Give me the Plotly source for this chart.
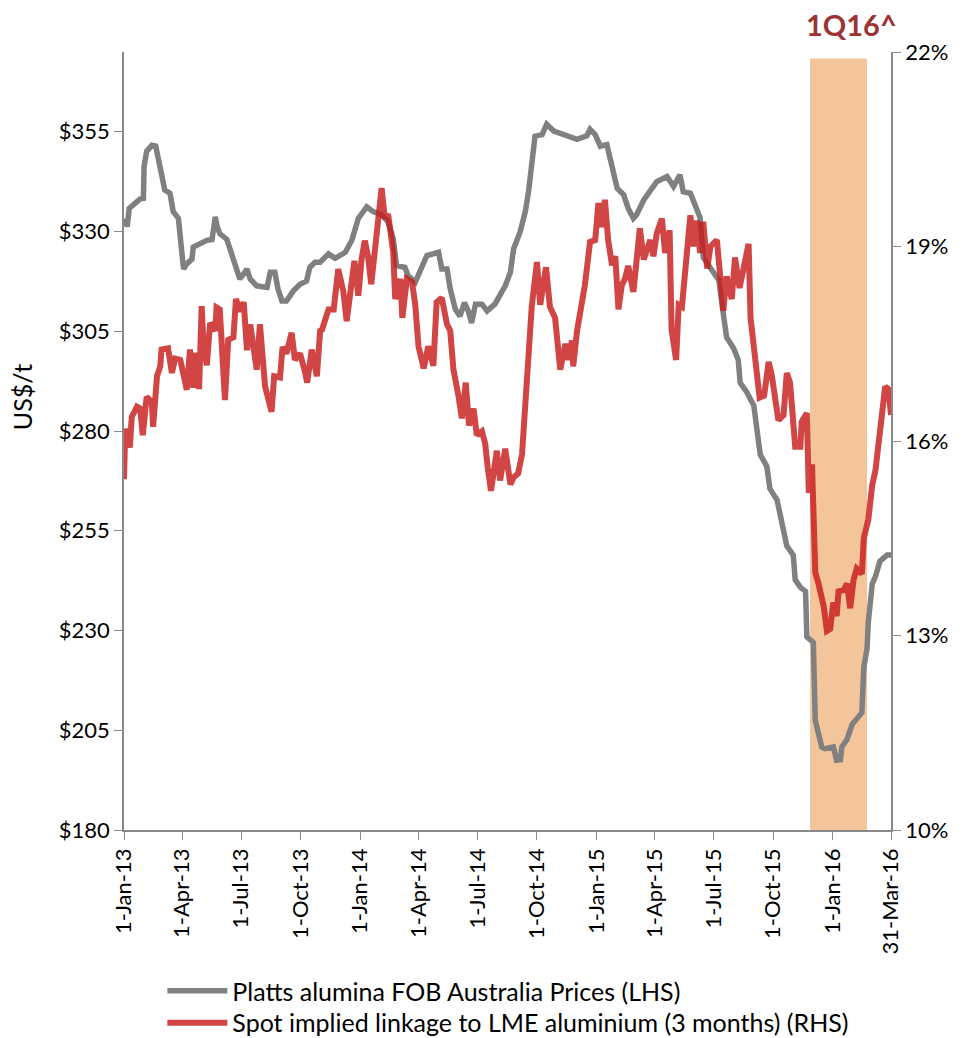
import pandas as pd
import plotly.graph_objects as go

# days since 1-Jan-13
grey_days = [2, 5, 8, 17, 25, 30, 31, 35, 43, 49, 53, 58, 63, 71, 76, 84, 87, 92, 97, 105,
             107, 117, 128, 136, 141, 144, 148, 159, 166, 174, 179, 190, 195, 205, 221, 226,
             233, 238, 244, 251, 262, 272, 282, 287, 295, 303, 316, 326, 342, 352, 362, 375,
             385, 398, 408, 416, 421, 434, 439, 450, 460, 468, 486, 491, 499, 504, 512, 519,
             526, 532, 537, 543, 553, 561, 573, 581, 589, 597, 602, 612, 620, 625, 630, 635,
             646, 653, 664, 679, 700, 715, 720, 728, 736, 746, 751, 756, 762, 772, 779, 787,
             792, 803, 813, 823, 839, 849, 859, 864, 875, 883, 890, 895, 906, 919, 926, 931,
             942, 949, 952, 962, 973, 978, 983, 993, 998, 1009, 1017, 1024, 1034, 1037, 1045,
             1053, 1055, 1065, 1068, 1073, 1078, 1083, 1096, 1101, 1107, 1109, 1117, 1125,
             1132, 1140, 1143, 1148, 1150, 1156, 1161, 1168, 1179, 1185]
grey_price = [333.3, 331.2, 335.8, 337.0, 338.2, 338.3, 346.3, 350.1, 351.6, 351.4, 348.4,
              343.4, 340.4, 339.6, 335.0, 333.3, 327.8, 320.6, 321.9, 323.1, 326.1, 326.9,
              327.8, 328.0, 333.7, 331.2, 329.5, 328.0, 324.8, 320.6, 318.1, 320.6, 318.1,
              316.4, 316.0, 319.8, 319.8, 315.6, 312.6, 312.6, 315.2, 316.8, 317.6, 321.0,
              322.3, 322.3, 324.4, 323.3, 324.8, 327.8, 333.3, 336.2, 335.0, 334.2, 332.4,
              328.2, 321.5, 321.0, 318.9, 317.3, 320.6, 324.0, 324.8, 320.6, 320.6, 315.6,
              310.5, 308.8, 312.2, 310.0, 307.1, 311.8, 311.8, 310.1, 311.8, 313.9, 316.4,
              319.8, 325.7, 329.9, 335.0, 340.0, 348.4, 353.9, 354.3, 356.9, 355.2, 354.3,
              353.1, 354.0, 355.6, 354.3, 351.4, 351.8, 348.4, 344.2, 340.8, 339.2, 335.8,
              333.3, 334.2, 337.9, 340.0, 342.5, 343.8, 341.3, 344.2, 340.0, 339.6, 335.8,
              333.5, 323.5, 320.7, 317.8, 309.3, 303.5, 300.7, 297.8, 292.1, 289.8, 286.4,
              278.8, 274.1, 271.2, 265.5, 262.7, 256.9, 251.2, 248.9, 242.7, 240.8, 239.8,
              228.4, 227.0, 207.5, 204.6, 200.8, 200.4, 200.8, 197.5, 197.6, 200.8, 202.7,
              206.5, 207.9, 209.4, 220.8, 225.5, 232.2, 241.7, 243.6, 247.4, 248.9, 248.9]

red_days = [0, 2, 9, 12, 20, 25, 29, 35, 43, 45, 51, 56, 58, 68, 74, 79, 87, 92, 97, 102,
            107, 112, 116, 120, 123, 128, 133, 141, 143, 148, 151, 156, 161, 169, 173, 179,
            185, 190, 195, 205, 210, 218, 228, 232, 241, 245, 251, 259, 264, 272, 280, 283,
            290, 298, 303, 306, 316, 324, 331, 339, 344, 349, 356, 362, 367, 372, 377, 382,
            388, 398, 403, 408, 416, 419, 427, 430, 437, 445, 450, 455, 463, 470, 478, 483,
            491, 499, 504, 509, 517, 522, 528, 533, 540, 545, 553, 558, 562, 567, 576, 581,
            589, 597, 602, 609, 615, 620, 625, 630, 638, 643, 652, 658, 666, 669, 674, 682,
            687, 692, 694, 700, 705, 712, 720, 728, 733, 738, 743, 748, 754, 759, 764, 769,
            774, 779, 787, 797, 803, 808, 813, 818, 823, 831, 836, 843, 846, 853, 857, 862,
            867, 875, 880, 885, 890, 895, 901, 906, 916, 924, 926, 931, 939, 944, 951, 957,
            965, 968, 975, 982, 989, 996, 1001, 1011, 1019, 1024, 1029, 1037, 1045, 1047,
            1055, 1058, 1063, 1065, 1068, 1073, 1081, 1086, 1091, 1096, 1101, 1104, 1112,
            1117, 1122, 1127, 1132, 1140, 1143, 1150, 1156, 1161, 1166, 1171, 1176, 1181, 1185]
red_pct = [15.41, 16.19, 15.90, 16.37, 16.53, 16.50, 16.09, 16.68, 16.60, 16.22, 17.00,
           17.15, 17.41, 17.43, 17.05, 17.27, 17.25, 17.05, 16.79, 17.41, 16.82, 17.36,
           16.80, 18.08, 17.45, 17.17, 17.82, 17.70, 18.06, 18.03, 17.45, 16.63, 17.56,
           17.60, 18.19, 18.00, 18.14, 17.40, 17.80, 17.10, 17.80, 16.84, 16.45, 17.00,
           16.98, 17.45, 17.35, 17.67, 17.25, 17.35, 17.05, 16.90, 17.41, 17.00, 17.70,
           17.72, 18.03, 18.03, 18.65, 18.30, 17.85, 18.30, 18.78, 18.24, 18.80, 19.09,
           18.85, 18.42, 19.02, 19.90, 19.43, 19.50, 18.91, 18.19, 18.50, 17.90, 18.50,
           18.45, 18.10, 17.46, 17.12, 17.46, 17.16, 18.14, 18.21, 17.80, 17.70, 17.10,
           16.68, 16.35, 16.90, 16.24, 16.50, 16.09, 16.15, 15.96, 15.59, 15.23, 15.85,
           15.39, 15.88, 15.33, 15.44, 15.50, 15.80, 16.53, 17.20, 18.08, 18.76, 18.10,
           18.68, 18.07, 17.90, 17.56, 17.10, 17.50, 17.25, 17.55, 17.15, 17.70, 17.98,
           18.40, 19.07, 19.10, 19.67, 19.30, 19.72, 19.10, 18.71, 18.85, 18.03, 18.40,
           18.50, 18.70, 18.30, 19.28, 18.80, 18.95, 19.10, 18.85, 19.20, 19.43, 18.90,
           19.25, 17.72, 17.25, 18.10, 18.07, 18.70, 19.48, 19.00, 19.40, 18.90, 19.38,
           18.66, 19.00, 19.10, 18.36, 18.01, 18.54, 18.19, 18.83, 18.36, 18.65, 19.04,
           17.90, 17.37, 16.67, 16.70, 17.22, 17.00, 16.32, 16.40, 17.05, 16.90, 15.91,
           15.91, 16.30, 16.43, 15.20, 15.64, 15.03, 13.97, 13.80, 13.45, 13.07, 13.10,
           13.51, 13.30, 13.68, 13.70, 13.80, 13.42, 13.85, 14.03, 13.95, 14.50, 14.79,
           15.32, 15.55, 16.02, 16.43, 16.84, 16.80, 16.40]

tick_dates = ["2013-01-01", "2013-04-01", "2013-07-01", "2013-10-01", "2014-01-01",
              "2014-04-01", "2014-07-01", "2014-10-01", "2015-01-01", "2015-04-01",
              "2015-07-01", "2015-10-01", "2016-01-01", "2016-03-31"]
tick_labels = ["1-Jan-13", "1-Apr-13", "1-Jul-13", "1-Oct-13", "1-Jan-14", "1-Apr-14",
               "1-Jul-14", "1-Oct-14", "1-Jan-15", "1-Apr-15", "1-Jul-15", "1-Oct-15",
               "1-Jan-16", "31-Mar-16"]

start = pd.Timestamp("2013-01-01")
grey_x = start + pd.to_timedelta(grey_days, unit="D")
red_x = start + pd.to_timedelta(red_days, unit="D")

FONT = "Lato"
AXIS = "#898989"

fig = go.Figure()

fig.add_trace(go.Scatter(
    x=grey_x, y=grey_price, mode="lines",
    line=dict(color="#808080", width=5.5),
    name="Platts alumina FOB Australia Prices (LHS)",
    legend="legend",
))
fig.add_trace(go.Scatter(
    x=red_x, y=red_pct, mode="lines", yaxis="y2",
    line=dict(color="rgba(200,28,28,0.82)", width=6),
    name="Spot implied linkage to LME aluminium (3 months) (RHS)",
    legend="legend2",
))

# 1Q16 highlight
fig.add_shape(type="rect", xref="x", yref="y2",
              x0="2015-11-27", x1="2016-02-23", y0=10, y1=21.9,
              fillcolor="#F4C49B", line_width=0, layer="below")
fig.add_annotation(text="<b>1Q16^</b>", xref="paper", yref="paper",
                   x=0.949, y=1.035, xanchor="center", yanchor="middle",
                   showarrow=False,
                   font=dict(family=FONT, size=29, color="#9B3333"))
# y-axis title
fig.add_annotation(text="US$/t", xref="paper", yref="paper",
                   x=-0.132, y=0.556, xanchor="center", yanchor="middle",
                   textangle=-90, showarrow=False,
                   font=dict(family=FONT, size=25, color="black"))

legend_style = dict(x=0.05, xanchor="left", yanchor="middle",
                    font=dict(size=25), itemwidth=60, bgcolor="rgba(0,0,0,0)")

fig.update_layout(
    width=955, height=1050,
    margin=dict(l=116, r=72, t=44, b=219),
    plot_bgcolor="white", paper_bgcolor="white",
    font=dict(family=FONT, size=22, color="black"),
    xaxis=dict(
        type="date", range=["2013-01-01", "2016-03-31"],
        tickmode="array", tickvals=tick_dates, ticktext=tick_labels,
        tickangle=-90, ticks="outside", ticklen=8, tickcolor=AXIS,
        showline=True, linecolor=AXIS, linewidth=1.5, showgrid=False,
        tickfont=dict(size=22), automargin=False,
    ),
    yaxis=dict(
        range=[180, 375], tick0=180, dtick=25, tickprefix="$",
        ticks="outside", ticklen=8, tickcolor=AXIS,
        showline=True, linecolor=AXIS, linewidth=1.5, showgrid=False,
        zeroline=False, automargin=False,
    ),
    yaxis2=dict(
        overlaying="y", side="right", range=[10, 22], tick0=10, dtick=3,
        ticksuffix="%", ticks="outside", ticklen=8, tickcolor=AXIS,
        showline=True, linecolor=AXIS, linewidth=1.5, showgrid=False,
        zeroline=False, automargin=False,
    ),
    showlegend=True,
    legend=dict(y=-0.207, **legend_style),
    legend2=dict(y=-0.248, **legend_style),
)

fig.write_html("out.html")
